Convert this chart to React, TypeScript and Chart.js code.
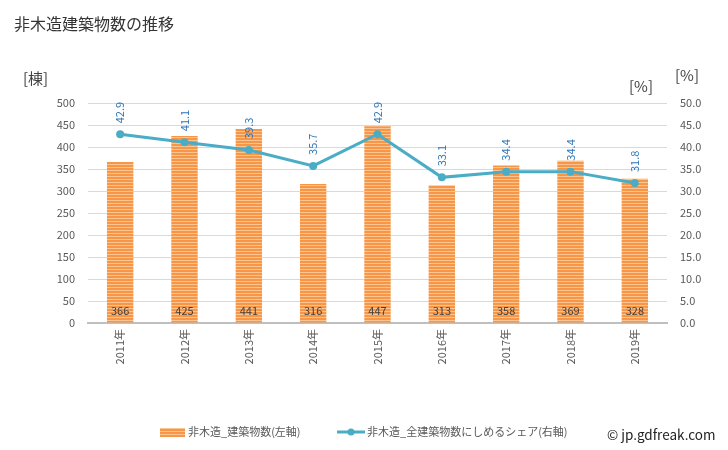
import React, { useEffect, useRef } from "react";
import { Chart, registerables } from "chart.js";

Chart.register(...registerables);

const categories = ["2011年", "2012年", "2013年", "2014年", "2015年", "2016年", "2017年", "2018年", "2019年"];
const buildingCounts = [366, 425, 441, 316, 447, 313, 358, 369, 328];
const sharePercent = [42.9, 41.1, 39.3, 35.7, 42.9, 33.1, 34.4, 34.4, 31.8];
const barLabel = "非木造_建築物数(左軸)";
const lineLabel = "非木造_全建築物数にしめるシェア(右軸)";
const titleText = "非木造建築物数の推移";

const FONT = '"Noto Sans CJK JP", "Noto Sans", sans-serif';

function makePattern(ctx: CanvasRenderingContext2D) {
  const c = document.createElement("canvas");
  c.width = 4;
  c.height = 3;
  const p = c.getContext("2d")!;
  p.fillStyle = "#f79646";
  p.fillRect(0, 0, 4, 3);
  p.fillStyle = "#fbc592";
  p.fillRect(0, 2, 4, 1);
  return ctx.createPattern(c, "repeat")!;
}

export default function App() {
  const ref = useRef<HTMLCanvasElement>(null);
  useEffect(() => {
    document.body.style.margin = "0";
    const canvas = ref.current!;
    const ctx = canvas.getContext("2d")!;
    const pattern = makePattern(ctx);

    const decor = {
      id: "decor",
      afterDatasetsDraw(chart: any) {
        const c = chart.ctx;
        c.save();
        // bar value labels
        const barMeta = chart.getDatasetMeta(0);
        c.font = `11px ${FONT}`;
        c.fillStyle = "#404040";
        c.textAlign = "center";
        c.textBaseline = "middle";
        barMeta.data.forEach((el: any, i: number) => {
          c.fillText(String(buildingCounts[i]), el.x, chart.chartArea.bottom - 12);
        });
        // line value labels rotated
        const lineMeta = chart.getDatasetMeta(1);
        c.fillStyle = "#2e75b6";
        lineMeta.data.forEach((el: any, i: number) => {
          c.save();
          c.translate(el.x, el.y - 11);
          c.rotate(-Math.PI / 2);
          c.textAlign = "left";
          c.textBaseline = "middle";
          c.fillText(sharePercent[i].toFixed(1), 0, 0);
          c.restore();
        });
        c.restore();
      },
      afterDraw(chart: any) {
        const c = chart.ctx;
        c.save();
        c.textBaseline = "middle";
        c.textAlign = "left";
        c.fillStyle = "#333333";
        c.font = `16px ${FONT}`;
        c.fillText(titleText, 14, 24);
        c.fillStyle = "#404040";
        c.font = `15px ${FONT}`;
        c.fillText("[棟]", 23, 78);
        c.fillText("[%]", 629, 86);
        c.fillText("[%]", 675, 75);
        // legend
        const ly = 432;
        c.fillStyle = pattern;
        c.fillRect(160, ly - 4, 25, 9);
        c.font = `11px ${FONT}`;
        c.fillStyle = "#595959";
        c.fillText(barLabel, 188, ly);
        c.strokeStyle = "#4bacc6";
        c.lineWidth = 3;
        c.beginPath();
        c.moveTo(337, ly);
        c.lineTo(365, ly);
        c.stroke();
        c.fillStyle = "#4bacc6";
        c.beginPath();
        c.arc(351, ly, 3.5, 0, Math.PI * 2);
        c.fill();
        c.fillStyle = "#595959";
        c.fillText(lineLabel, 367, ly);
        c.fillStyle = "#222222";
        c.font = `13.5px ${FONT}`;
        c.fillText("© jp.gdfreak.com", 607, 435);
        c.restore();
      },
    };

    const chart = new Chart(canvas, {
      type: "bar",
      data: {
        labels: categories,
        datasets: [
          {
            type: "bar",
            label: barLabel,
            data: buildingCounts,
            backgroundColor: pattern as any,
            borderWidth: 0,
            yAxisID: "y",
            categoryPercentage: 1,
            barPercentage: 0.41,
            order: 2,
          },
          {
            type: "line",
            label: lineLabel,
            data: sharePercent,
            borderColor: "#4bacc6",
            backgroundColor: "#4bacc6",
            borderWidth: 3,
            pointRadius: 4,
            pointBackgroundColor: "#4bacc6",
            pointBorderWidth: 0,
            yAxisID: "y1",
            tension: 0,
            order: 1,
          },
        ],
      },
      options: {
        animation: false,
        responsive: false,
        layout: { padding: { top: 103, bottom: 0, left: 0, right: 0 } },
        plugins: { legend: { display: false }, title: { display: false }, tooltip: { enabled: false } },
        scales: {
          x: {
            grid: { display: false, drawTicks: false },
            border: { color: "#bfbfbf", width: 2 },
            ticks: {
              color: "#595959",
              font: { family: FONT, size: 11 },
              maxRotation: 90,
              minRotation: 90,
              padding: 6,
            },
            afterFit(scale: any) {
              scale.height = 127;
            },
          },
          y: {
            position: "left",
            min: 0,
            max: 500,
            grid: { color: "#d9d9d9", drawTicks: false },
            border: { display: false },
            ticks: {
              stepSize: 50,
              color: "#595959",
              font: { family: FONT, size: 11 },
              padding: 13,
            },
            afterFit(scale: any) {
              scale.width = 88;
            },
          },
          y1: {
            position: "right",
            min: 0,
            max: 50,
            grid: { display: false, drawTicks: false },
            border: { display: false },
            ticks: {
              stepSize: 5,
              color: "#595959",
              font: { family: FONT, size: 11 },
              padding: 13,
              callback: (v: any) => Number(v).toFixed(1),
            },
            afterFit(scale: any) {
              scale.width = 61;
            },
          },
        },
      },
      plugins: [decor],
    });
    return () => chart.destroy();
  }, []);

  return (
    <div style={{ position: "relative", width: 728, height: 450, background: "#fff" }}>
      <canvas ref={ref} width={728} height={450} />
    </div>
  );
}
